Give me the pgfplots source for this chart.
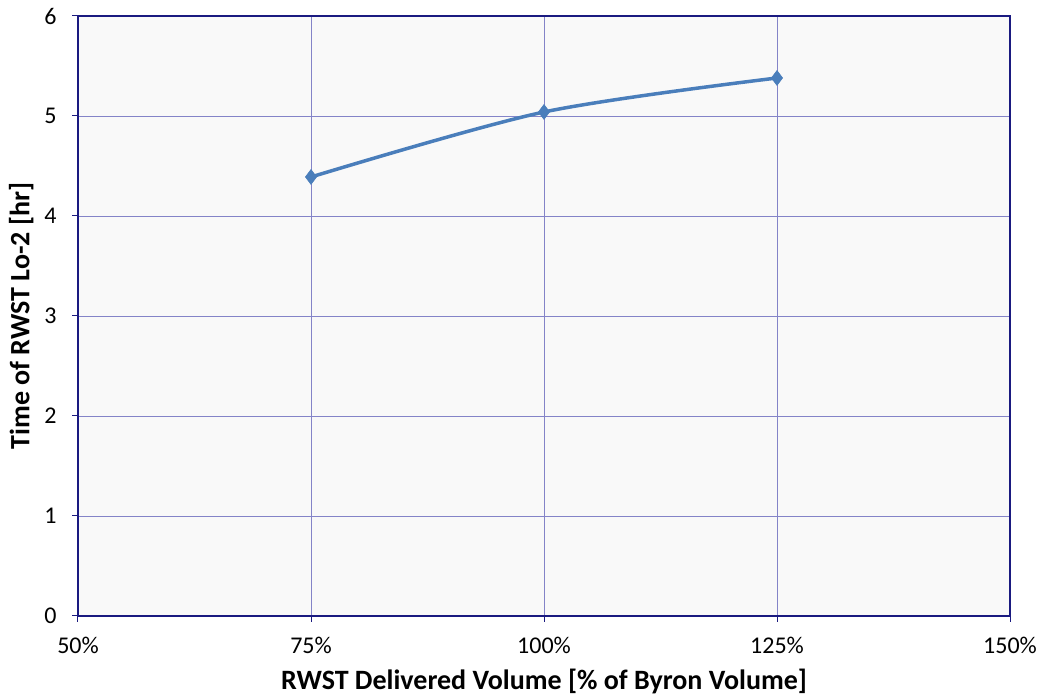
\documentclass[border=0pt]{standalone}
\usepackage{fontspec}
\setmainfont{Carlito}
\usepackage{pgfplots}
\pgfplotsset{compat=1.18}
\definecolor{ser}{HTML}{4A7EBB}
\definecolor{gridc}{HTML}{8484C8}
\definecolor{axc}{HTML}{1A1A80}
\begin{document}
\begin{tikzpicture}[x=1pt,y=1pt]
\path[use as bounding box] (-78,-84) rectangle (964,616);
\begin{axis}[
  at={(0,0)}, anchor=south west,
  scale only axis,
  width=932pt, height=600pt,
  xmin=50, xmax=150, ymin=0, ymax=6,
  xtick={50,75,100,125,150},
  xticklabels={50\%,75\%,100\%,125\%,150\%},
  ytick={0,1,2,3,4,5,6},
  tick pos=left, tick align=outside,
  major tick length=6pt,
  tick style={axc, line width=1pt},
  grid=major,
  major grid style={gridc, line width=0.8pt},
  axis line style={axc, line width=1.5pt},
  axis background/.style={fill={rgb,255:red,249;green,249;blue,249}},
  /pgf/number format/assume math mode=true,
  tick label style={font=\fontsize{24}{28}\selectfont, black},
  xticklabel style={yshift=-12pt},
  yticklabel style={xshift=-12pt},
  xlabel={\textbf{RWST Delivered Volume [\% of Byron Volume]}},
  ylabel={\textbf{Time of RWST Lo-2 [hr]}},
  label style={font=\fontsize{28}{32}\selectfont},
  xlabel style={yshift=-8pt},
  ylabel style={yshift=4pt},
]
\addplot[ser, line width=3.5pt, smooth, mark=diamond*, mark size=7.5pt, mark options={ser, line width=0.5pt}]
  coordinates {(75,4.39) (100,5.04) (125,5.38)};
\end{axis}
\end{tikzpicture}
\end{document}
